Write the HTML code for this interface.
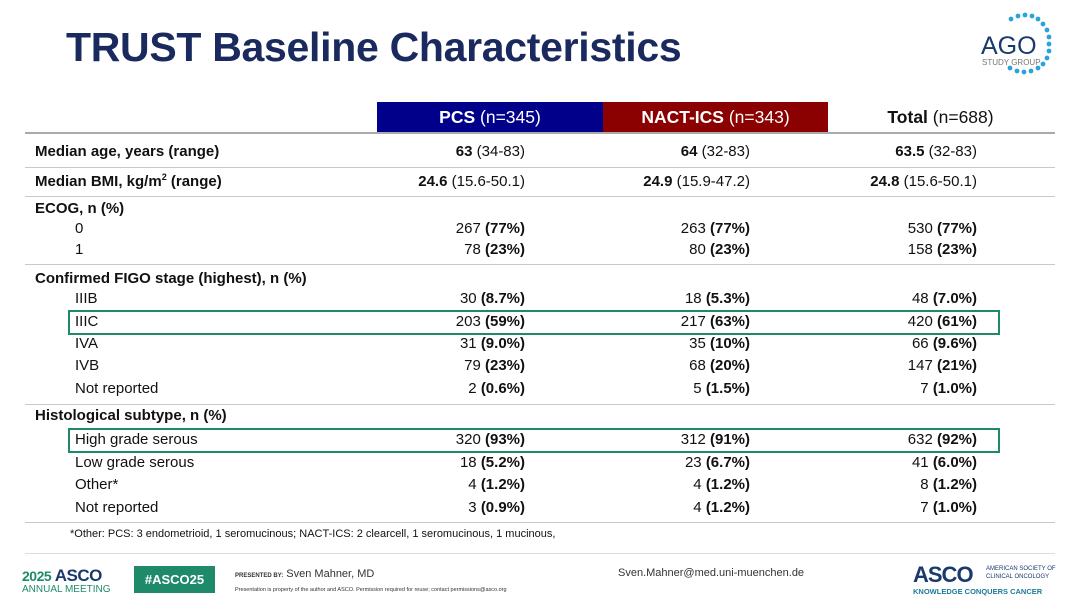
<!DOCTYPE html>
<html><head><meta charset="utf-8"><style>
*{margin:0;padding:0;box-sizing:border-box}
body{width:1080px;height:607px;background:#fff;position:relative;overflow:hidden;font-family:"Liberation Sans",Arial,sans-serif;color:#111}
.a{position:absolute;white-space:nowrap}
.t{font-size:15px;line-height:16px}
.r{text-align:right}
.hl{position:absolute;left:25px;width:1030px;height:1px;background:#c8c8c8}
b{font-weight:bold}
</style></head><body>
<div class="a" style="left:66px;top:24px;font-size:41px;font-weight:bold;color:#1a2a5e;letter-spacing:-0.3px">TRUST Baseline Characteristics</div>
<svg class="a" style="left:975px;top:10px" width="90" height="80" viewBox="0 0 90 80">
<g fill="#29a3dc">
<circle cx="36" cy="9" r="2.4"/><circle cx="43" cy="6" r="2.4"/><circle cx="50" cy="5" r="2.4"/><circle cx="57" cy="6" r="2.4"/><circle cx="63" cy="9" r="2.4"/><circle cx="68" cy="14" r="2.4"/><circle cx="72" cy="20" r="2.4"/><circle cx="74" cy="27" r="2.4"/><circle cx="74" cy="34" r="2.4"/><circle cx="74" cy="41" r="2.4"/><circle cx="72" cy="48" r="2.4"/><circle cx="68" cy="54" r="2.4"/><circle cx="63" cy="58" r="2.4"/><circle cx="56" cy="61" r="2.4"/><circle cx="49" cy="62" r="2.4"/><circle cx="42" cy="61" r="2.4"/><circle cx="35" cy="58" r="2.4"/>
</g>
<text x="6" y="44" font-family="Liberation Sans" font-size="25" fill="#1a3a6e">AGO</text>
<text x="7" y="55" font-family="Liberation Sans" font-size="8" fill="#777">STUDY GROUP</text>
</svg>
<div class="a" style="left:377px;top:102px;width:226px;height:31px;background:#00008b;color:#fff;font-size:17.5px;line-height:31px;text-align:center"><b>PCS</b> (n=345)</div>
<div class="a" style="left:603px;top:102px;width:225px;height:31px;background:#8b0000;color:#fff;font-size:17.5px;line-height:31px;text-align:center"><b>NACT-ICS</b> (n=343)</div>
<div class="a" style="left:828px;top:102px;width:225px;height:31px;font-size:17.5px;line-height:31px;text-align:center"><b>Total</b> (n=688)</div>
<div class="a" style="left:25px;top:132px;width:1030px;height:2px;background:#aaa"></div>
<div class="hl" style="top:167px"></div>
<div class="hl" style="top:196px"></div>
<div class="hl" style="top:264px"></div>
<div class="hl" style="top:404px"></div>
<div class="hl" style="top:522px"></div>
<div class="a" style="left:25px;top:553px;width:1030px;height:1px;background:#ddd"></div>
<div class="a" style="left:68px;top:310px;width:932px;height:25px;border:2.5px solid #1e8a6a"></div>
<div class="a" style="left:68px;top:428px;width:932px;height:25px;border:2.5px solid #1e8a6a"></div>
<div class="a t" style="left:35px;top:144px"><b>Median age, years (range)</b></div>
<div class="a t r" style="right:555px;top:144px"><b>63</b> (34-83)</div>
<div class="a t r" style="right:330px;top:144px"><b>64</b> (32-83)</div>
<div class="a t r" style="right:103px;top:144px"><b>63.5</b> (32-83)</div>
<div class="a t" style="left:35px;top:174px"><b>Median BMI, kg/m<sup style="font-size:9px;line-height:0">2</sup> (range)</b></div>
<div class="a t r" style="right:555px;top:174px"><b>24.6</b> (15.6-50.1)</div>
<div class="a t r" style="right:330px;top:174px"><b>24.9</b> (15.9-47.2)</div>
<div class="a t r" style="right:103px;top:174px"><b>24.8</b> (15.6-50.1)</div>
<div class="a t" style="left:35px;top:201px"><b>ECOG, n (%)</b></div>
<div class="a t" style="left:75px;top:221px">0</div>
<div class="a t r" style="right:555px;top:221px">267 <b>(77%)</b></div>
<div class="a t r" style="right:330px;top:221px">263 <b>(77%)</b></div>
<div class="a t r" style="right:103px;top:221px">530 <b>(77%)</b></div>
<div class="a t" style="left:75px;top:242px">1</div>
<div class="a t r" style="right:555px;top:242px">78 <b>(23%)</b></div>
<div class="a t r" style="right:330px;top:242px">80 <b>(23%)</b></div>
<div class="a t r" style="right:103px;top:242px">158 <b>(23%)</b></div>
<div class="a t" style="left:35px;top:271px"><b>Confirmed FIGO stage (highest), n (%)</b></div>
<div class="a t" style="left:75px;top:291px">IIIB</div>
<div class="a t r" style="right:555px;top:291px">30 <b>(8.7%)</b></div>
<div class="a t r" style="right:330px;top:291px">18 <b>(5.3%)</b></div>
<div class="a t r" style="right:103px;top:291px">48 <b>(7.0%)</b></div>
<div class="a t" style="left:75px;top:314px">IIIC</div>
<div class="a t r" style="right:555px;top:314px">203 <b>(59%)</b></div>
<div class="a t r" style="right:330px;top:314px">217 <b>(63%)</b></div>
<div class="a t r" style="right:103px;top:314px">420 <b>(61%)</b></div>
<div class="a t" style="left:75px;top:336px">IVA</div>
<div class="a t r" style="right:555px;top:336px">31 <b>(9.0%)</b></div>
<div class="a t r" style="right:330px;top:336px">35 <b>(10%)</b></div>
<div class="a t r" style="right:103px;top:336px">66 <b>(9.6%)</b></div>
<div class="a t" style="left:75px;top:358px">IVB</div>
<div class="a t r" style="right:555px;top:358px">79 <b>(23%)</b></div>
<div class="a t r" style="right:330px;top:358px">68 <b>(20%)</b></div>
<div class="a t r" style="right:103px;top:358px">147 <b>(21%)</b></div>
<div class="a t" style="left:75px;top:381px">Not reported</div>
<div class="a t r" style="right:555px;top:381px">2 <b>(0.6%)</b></div>
<div class="a t r" style="right:330px;top:381px">5 <b>(1.5%)</b></div>
<div class="a t r" style="right:103px;top:381px">7 <b>(1.0%)</b></div>
<div class="a t" style="left:35px;top:408px"><b>Histological subtype, n (%)</b></div>
<div class="a t" style="left:75px;top:432px">High grade serous</div>
<div class="a t r" style="right:555px;top:432px">320 <b>(93%)</b></div>
<div class="a t r" style="right:330px;top:432px">312 <b>(91%)</b></div>
<div class="a t r" style="right:103px;top:432px">632 <b>(92%)</b></div>
<div class="a t" style="left:75px;top:455px">Low grade serous</div>
<div class="a t r" style="right:555px;top:455px">18 <b>(5.2%)</b></div>
<div class="a t r" style="right:330px;top:455px">23 <b>(6.7%)</b></div>
<div class="a t r" style="right:103px;top:455px">41 <b>(6.0%)</b></div>
<div class="a t" style="left:75px;top:477px">Other*</div>
<div class="a t r" style="right:555px;top:477px">4 <b>(1.2%)</b></div>
<div class="a t r" style="right:330px;top:477px">4 <b>(1.2%)</b></div>
<div class="a t r" style="right:103px;top:477px">8 <b>(1.2%)</b></div>
<div class="a t" style="left:75px;top:500px">Not reported</div>
<div class="a t r" style="right:555px;top:500px">3 <b>(0.9%)</b></div>
<div class="a t r" style="right:330px;top:500px">4 <b>(1.2%)</b></div>
<div class="a t r" style="right:103px;top:500px">7 <b>(1.0%)</b></div>
<div class="a" style="left:70px;top:528px;font-size:11px">*Other: PCS: 3 endometrioid, 1 seromucinous; NACT-ICS: 2 clearcell, 1 seromucinous, 1 mucinous,</div>
<div class="a" style="left:22px;top:566px;font-size:17px;font-weight:bold;color:#1a3a6e;letter-spacing:-0.5px"><span style="color:#1e8a6a;font-size:14px">2025</span> ASCO</div>
<div class="a" style="left:22px;top:584px;font-size:10px;color:#1e8a6a">ANNUAL MEETING</div>
<div class="a" style="left:134px;top:566px;width:81px;height:27px;background:#1e8a6a;color:#fff;font-size:13px;font-weight:bold;line-height:27px;text-align:center">#ASCO25</div>
<div class="a" style="left:235px;top:568px;font-size:11px;color:#333"><span style="font-size:6px;font-weight:bold">PRESENTED BY:</span> Sven Mahner, MD</div>
<div class="a" style="left:235px;top:587px;font-size:5.5px;color:#333">Presentation is property of the author and ASCO. Permission required for reuse; contact permissions@asco.org</div>
<div class="a" style="left:618px;top:567px;font-size:11px;color:#333">Sven.Mahner@med.uni-muenchen.de</div>
<div class="a" style="left:913px;top:562px;font-size:22px;font-weight:bold;color:#1a3a6e;letter-spacing:-1px">ASCO</div>
<div class="a" style="left:986px;top:565px;font-size:6px;color:#1a3a6e;line-height:8px">AMERICAN SOCIETY OF<br>CLINICAL ONCOLOGY</div>
<div class="a" style="left:913px;top:587px;font-size:7.5px;font-weight:bold;color:#1e7a9a">KNOWLEDGE CONQUERS CANCER</div>
</body></html>
